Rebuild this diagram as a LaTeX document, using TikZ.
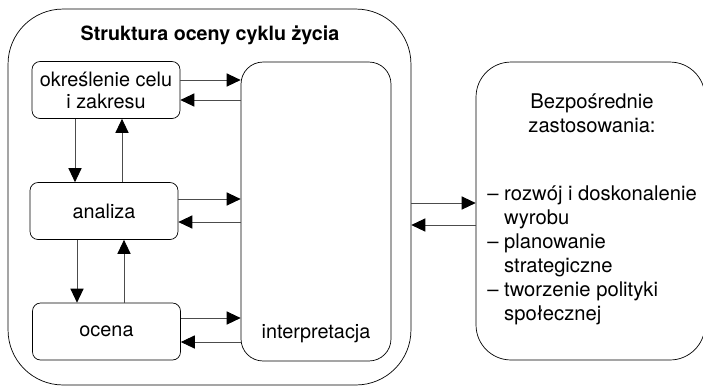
\documentclass[tikz,border=0pt]{standalone}
\usepackage{fontspec}
\setmainfont{TeX Gyre Heros}
\usetikzlibrary{arrows.meta}

\tikzset{
	stage/.style={draw, rounded corners=0.16cm, minimum width=2.96cm, minimum height=1.14cm, align=center, inner sep=1pt},
	arr/.style={draw=black!70, -{Triangle[length=8pt,width=7.5pt,color=black]}, line width=0.5pt}
}

\begin{document}
\begin{tikzpicture}[x=0.02cm, y=-0.02cm, font=\fontsize{11.3}{12.5}\selectfont]
\useasboundingbox (0,0) rectangle (703,387);
% outer frame and the two big boxes
\node[draw, rounded corners=1.1cm, minimum width=8.06cm, minimum height=7.52cm] (frame) at (209.5,197) {};
\node[font=\fontsize{11.2}{12.5}\selectfont\bfseries] (title) at (210,35) {Struktura oceny cyklu życia};
\node[draw, rounded corners=0.44cm, minimum width=3cm, minimum height=5.98cm] (interp) at (316,211.5) {};
\node[anchor=base] (interptext) at ([yshift=0.46cm]interp.south) {interpretacja};
\node[draw, rounded corners=0.7cm, minimum width=4.58cm, minimum height=5.96cm] (use) at (590.5,211) {};
% phases
\node[stage] (goal) at (106,90) {określenie celu\\i zakresu};
\node[stage] (analysis) at (104,211) {analiza};
\node[stage] (rating) at (106.5,331.5) {ocena};
% texts in the right box
\node[anchor=north, align=center, inner sep=0pt, font=\fontsize{11.5}{14}\selectfont] (usehead) at (592,93) {Bezpośrednie\\zastosowania:};
\node[anchor=north west, align=left, inner sep=0pt, font=\fontsize{11.5}{13.7}\selectfont] (uselist) at (487,185) {%
– rozwój i doskonalenie\\
\phantom{– }wyrobu\\
– planowanie\\
\phantom{– }strategiczne\\
– tworzenie polityki\\
\phantom{– }społecznej};
% arrows between phases and interpretation
\draw[arr] (goal.east |- 0,80) -- (interp.west |- 0,80);
\draw[arr] (interp.west |- 0,100) -- (goal.east |- 0,100);
\draw[arr] (analysis.east |- 0,199) -- (interp.west |- 0,199);
\draw[arr] (interp.west |- 0,222) -- (analysis.east |- 0,222);
\draw[arr] (rating.east |- 0,318) -- (interp.west |- 0,318);
\draw[arr] (interp.west |- 0,342) -- (rating.east |- 0,342);
% arrows between phases
\draw[arr] (goal.south -| 75,0) -- (analysis.north -| 75,0);
\draw[arr] (analysis.north -| 122,0) -- (goal.south -| 122,0);
\draw[arr] (analysis.south -| 77,0) -- (rating.north -| 77,0);
\draw[arr] (rating.north -| 124,0) -- (analysis.south -| 124,0);
% arrows to the applications
\draw[arr] (frame.east |- 0,203) -- (use.west |- 0,203);
\draw[arr] (use.west |- 0,225) -- (frame.east |- 0,225);
\end{tikzpicture}
\end{document}
